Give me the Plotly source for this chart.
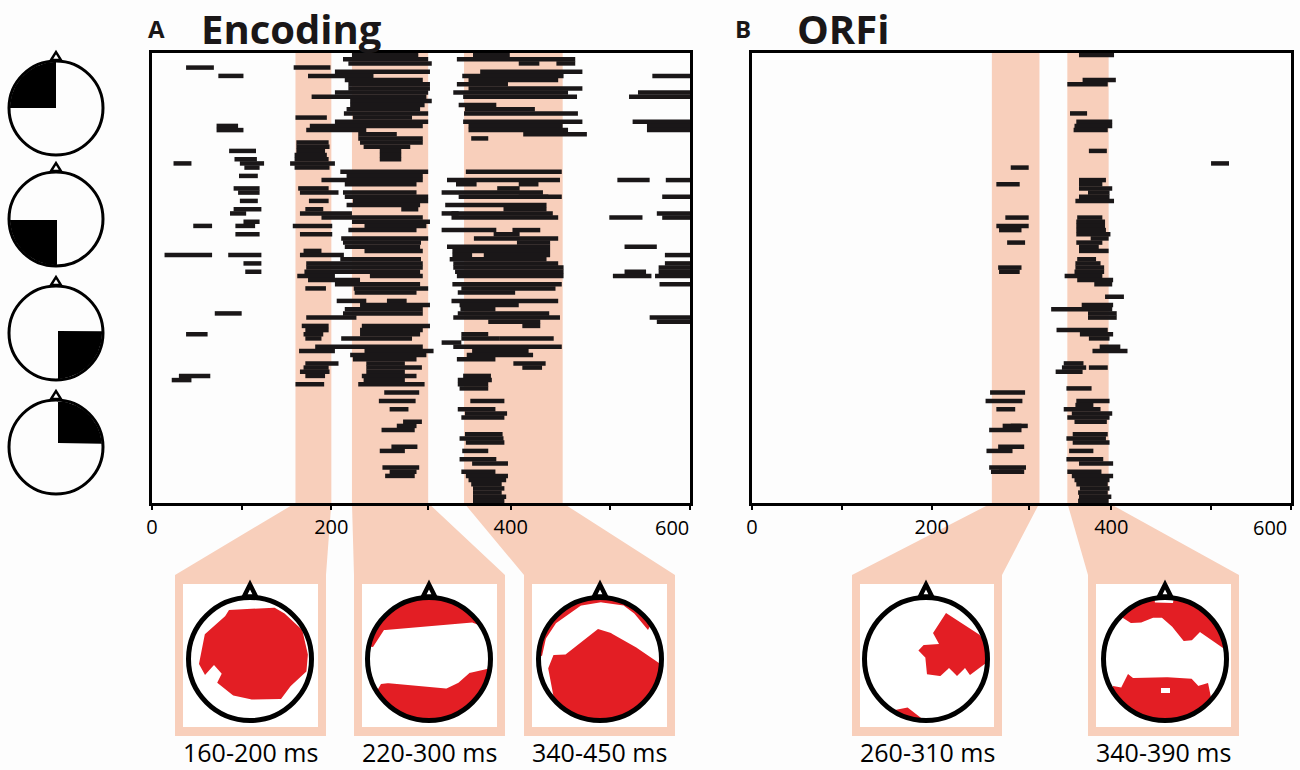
import numpy as np
import plotly.graph_objects as go

# (row, start ms, end ms), rows counted from the top
enc_spans = [
    (0,223,297),(0,358,399),(1,213,308),(1,340,472),(2,219,312),(2,409,432),(2,451,472),
    (3,38,69),(3,158,199),(4,204,310),(4,366,480),(5,74,102),(5,174,247),(5,346,459),(5,558,600),
    (6,215,302),(6,353,453),(7,219,310),(7,340,397),(8,219,310),(8,353,480),
    (9,204,308),(9,336,464),(9,542,600),(10,178,306),(10,347,474),(10,532,600),(11,221,312),
    (12,221,304),(12,342,384),(13,217,299),(13,349,427),(14,214,308),(14,348,475),
    (15,160,195),(15,224,290),(16,204,308),(16,347,480),(16,536,600),
    (17,72,96),(17,176,302),(17,353,458),(17,552,600),(18,72,102),(18,172,239),(18,353,464),(18,552,600),
    (19,230,273),(19,414,485),(20,230,302),(20,356,375),(21,161,197),(21,232,302),
    (22,161,198),(22,236,288),(23,86,116),(23,161,193),(23,254,278),(24,159,195),(24,254,278),
    (25,92,117),(25,159,197),(25,254,278),(26,24,44),(26,98,125),(26,154,204),(27,103,120),(27,159,198),
    (28,210,308),(28,350,457),(29,97,118),(29,217,302),(30,189,302),(30,329,455),(30,519,555),(30,573,600),
    (31,215,295),(31,339,362),(31,409,431),(32,91,120),(32,163,197),(32,385,410),
    (33,96,120),(33,165,208),(33,213,295),(33,323,436),(34,342,457),(34,215,308),(34,409,442),(34,569,600),
    (35,98,118),(35,175,197),(35,224,308),(36,217,299),(36,327,440),(37,91,122),(37,171,191),(37,278,297),(37,392,440),
    (38,87,105),(38,165,223),(38,323,342),(38,334,447),(38,563,600),(39,189,302),(39,334,453),(39,510,547),(39,569,600),
    (40,102,120),(40,223,310),(41,46,67),(41,93,115),(41,157,201),(41,237,306),
    (42,219,295),(42,323,384),(42,402,433),(43,93,120),(43,165,201),(43,381,410),
    (44,211,308),(44,359,453),(45,213,300),(45,407,444),(46,215,299),(46,329,444),(46,527,563),
    (47,169,189),(47,237,302),(47,335,444),(48,14,67),(48,85,122),(48,165,214),(48,335,357),(48,370,444),(48,572,600),
    (49,210,300),(49,332,440),(50,102,122),(50,172,302),(50,336,453),(50,572,600),
    (51,172,302),(51,336,459),(51,565,600),(52,104,122),(52,170,299),(52,338,459),(52,527,551),(52,565,600),
    (53,162,204),(53,243,302),(53,340,459),(53,514,557),(53,561,600),
    (54,174,232),(55,204,299),(55,335,457),(55,566,600),(56,171,194),(56,225,308),(56,345,450),(57,226,295),(57,341,405),
    (59,206,239),(59,262,284),(59,334,453),(60,232,310),(60,343,409),(61,215,302),(61,344,383),
    (62,70,100),(62,213,302),(62,341,443),(63,172,228),(63,336,455),(63,555,600),(64,375,433),(64,563,600),
    (65,167,197),(65,234,310),(65,413,433),(66,171,197),(66,232,302),(67,38,62),(67,169,191),(67,232,299),(67,345,375),
    (68,171,189),(68,211,290),(68,345,388),(68,388,448),(69,323,345),(70,182,302),(70,336,457),
    (71,164,204),(71,237,314),(71,357,420),(72,221,306),(72,351,425),(73,224,295),(73,340,383),
    (74,171,208),(74,239,282),(74,403,439),(75,169,197),(75,239,301),(75,413,435),(76,165,198),(76,239,282),
    (77,30,65),(77,171,193),(77,234,295),(77,347,378),(78,22,44),(78,236,282),(78,341,379),
    (79,160,192),(79,230,304),(79,341,375),(80,343,375),(81,259,298),(83,253,294),(83,355,393),
    (85,265,286),(85,341,383),(86,349,396),(87,345,393),(88,280,301),(89,273,295),(90,256,293),
    (91,349,391),(92,343,392),(93,350,393),(94,267,296),(95,254,282),(95,346,375),
    (97,343,384),(98,357,397),(99,257,298),(100,265,295),(100,345,383),(101,260,293),(101,350,397),
    (102,353,395),(103,356,390),(104,358,393),(105,358,390),(106,358,395),(107,358,393),
]
orf_spans = [
    (0,364,403),(6,368,405),(7,351,396),(14,354,373),(16,361,401),(17,359,401),(18,358,396),
    (23,375,395),(26,511,531),(27,288,308),(30,364,394),(31,272,298),(31,364,390),(32,364,401),
    (33,374,398),(34,364,398),(35,360,403),(39,282,308),(39,362,390),(40,361,393),(41,272,308),(41,361,393),
    (42,275,300),(42,361,394),(43,361,399),(44,377,397),(45,284,304),(45,361,390),(46,364,386),(47,364,397),
    (49,362,383),(50,360,388),(51,274,300),(51,360,392),(52,275,298),(52,359,392),(53,348,390),
    (54,362,402),(55,381,401),(58,393,414),(60,367,402),(61,333,401),(62,374,406),(63,374,406),
    (66,339,396),(67,365,402),(68,375,398),(70,387,410),(71,379,418),(74,347,369),(75,345,372),(75,375,396),
    (76,338,368),(80,350,378),(81,265,304),(83,361,398),(83,260,301),(84,360,380),(85,272,293),(85,347,388),
    (86,356,401),(87,351,398),(88,359,395),(89,288,307),(89,279,300),(90,264,300),(91,357,396),(92,350,394),
    (93,357,398),(94,274,303),(95,261,290),(95,353,380),(97,350,391),(98,364,402),(99,264,305),(100,275,303),
    (100,266,300),(100,351,389),(101,356,402),(102,359,398),(103,361,396),(104,365,398),(105,363,396),(106,364,400),(107,363,397),
]

# highlighted windows, as drawn (ms)
enc_band_start = [160, 223, 348]
enc_band_end = [200, 308, 458]
orf_band_start = [267, 351]
orf_band_end = [320, 397]

# the source's minor ticks do not sit exactly on 300 and 500
x_ticks = [0, 100, 200, 308, 400, 511, 600]
x_tick_text = ['0', '', '200', '', '400', '', '']

enc_labels = ['160-200 ms', '220-300 ms', '340-450 ms']
orf_labels = ['260-310 ms', '340-390 ms']

# topographies, outlines as offsets from the head centre
topo_a1 = [[(-21,-49),(23,-52),(33,-47),(52,-30),(58,-7),(57,12),(43,24),(31,40),(4,41),(-16,37),(-33,24),
            (-28,15),(-36,6),(-45,16),(-51,5),(-46,-24),(-26,-41)]]
topo_a2 = [[(-56,-12),(-45,-29),(-9,-32),(42,-37),(50,-34),(70,-70),(0,-90),(-70,-70),(-80,-15)],
           [(-48,25),(-43,24),(-9,27),(16,30),(28,25),(40,14),(58,10),(90,20),(70,70),(0,90),(-70,70),(-60,45)]]
topo_a3 = [[(-2,-30),(9,-27),(33,-14),(48,-3),(58,3),(90,30),(70,70),(0,90),(-40,70),(-48,30),(-52,10),(-47,-4),(-35,-4),(-21,-15)],
           [(-58,-3),(-55,-19),(-45,-35),(-21,-53),(-1,-57),(23,-54),(33,-47),(48,-29),(70,-70),(0,-90),(-70,-70),(-80,-10)]]
topo_b1 = [[(20,-46),(52,-26),(70,-5),(60,4),(44,16),(39,9),(31,17),(23,9),(15,17),(1,16),(0,-1),(-8,-8),(-3,-14),(13,-15),(7,-26)],
           [(-31,51),(-19,48),(-4,59),(-10,70),(-40,60)]]
topo_b2 = [[(-42,-41),(-35,-36),(-25,-36),(-14,-41),(-4,-42),(6,-34),(18,-18),(26,-18),(35,-27),(58,-11),(90,-40),(60,-70),
            (10,-70),(8,-56),(-10,-56),(-12,-70),(-50,-70)],
           [(-52,27),(-44,29),(-37,15),(-32,19),(-9,18),(26,19),(33,27),(43,24),(46,37),(60,70),(0,90),(-60,70)]]
topo_b2_hole = [(-4,29),(5,29),(5,34),(-4,34)]

BAND = '#f8cfbb'
BLACK = '#1a1718'
RED = '#e31e24'
BG = '#fdfdfd'
FONT = 'Open Sans'


def enc_px(ms):
    return 152 + ms * 538 / 600


def orf_px(ms):
    return 752 + ms * 539 / 600


def clip_to_head(outline, radius):
    # walk along the outline and pull anything outside the head back on to it
    pts = np.array(list(outline) + [outline[0]], dtype=float)
    out = []
    for a, b in zip(pts[:-1], pts[1:]):
        for t in np.linspace(0, 1, 24, endpoint=False):
            out.append(a + (b - a) * t)
    out = np.array(out)
    r = np.hypot(out[:, 0], out[:, 1])
    scale = np.minimum(1, radius / np.maximum(r, 1e-6))
    return out * scale[:, None]


def add_poly(fig, xs, ys, color):
    fig.add_trace(go.Scatter(x=list(xs) + [xs[0]], y=list(ys) + [ys[0]], mode='lines', fill='toself',
                             fillcolor=color, line=dict(width=0), hoverinfo='skip', xaxis='x', yaxis='y'))


def add_head(fig, shapes, cx, cy, r, lw, nose_lw, nose_w, nose_h):
    shapes.append(dict(type='path', xref='x', yref='y', layer='above', fillcolor='white',
                       line=dict(color='black', width=nose_lw),
                       path=f'M{cx-nose_w},{cy-r-1} L{cx},{cy-r-nose_h} L{cx+nose_w},{cy-r-1} Z'))
    shapes.append(dict(type='circle', xref='x', yref='y', layer='above', x0=cx-r, x1=cx+r, y0=cy-r, y1=cy+r,
                       line=dict(color='black', width=lw)))


fig = go.Figure()
shapes = []
annotations = []

# funnels and inset frames live on a page-sized axis, drawn first so they stay under the panels
insets = [
    (enc_px(enc_band_start[0]), enc_px(enc_band_end[0]), 175, 326, 250, topo_a1, enc_labels[0]),
    (enc_px(enc_band_start[1]), enc_px(enc_band_end[1]), 354, 505, 429, topo_a2, enc_labels[1]),
    (enc_px(enc_band_start[2]), enc_px(enc_band_end[2]), 524, 675, 600, topo_a3, enc_labels[2]),
    (orf_px(orf_band_start[0]), orf_px(orf_band_end[0]), 852, 1002, 926, topo_b1, orf_labels[0]),
    (orf_px(orf_band_start[1]), orf_px(orf_band_end[1]), 1088, 1239, 1165, topo_b2, orf_labels[1]),
]
for left, right, box_l, box_r, cx, topo, label in insets:
    add_poly(fig, [left, box_l, box_l, box_r, box_r, right], [503, 575, 736, 736, 575, 503], BAND)
    add_poly(fig, [box_l+8, box_r-8, box_r-8, box_l+8], [584, 584, 727, 727], 'white')
    for outline in topo:
        pts = clip_to_head(outline, 61)
        add_poly(fig, pts[:, 0] + cx, pts[:, 1] + 659, RED)
    add_head(fig, shapes, cx, 659, 61.5, 5, 4.5, 6, 13)
    annotations.append(dict(x=(box_l + box_r) / 2, y=752, xref='x', yref='y', text=label, showarrow=False,
                            font=dict(family=FONT, size=25, color='black')))
hole = np.array(topo_b2_hole, dtype=float)
add_poly(fig, hole[:, 0] + 1165, hole[:, 1] + 659, 'white')

# orientation heads on the left
quadrants = [
    (108, [(0,0),(-60,0),(-60,-60),(0,-60)]),
    (219, [(1,1),(-60,1),(-60,60),(1,60)]),
    (333, [(2,-2),(60,-2),(60,60),(2,60)]),
    (447, [(2,-4),(60,-4),(60,-60),(2,-60)]),
]
for cy, quad in quadrants:
    pts = clip_to_head(quad, 46)
    add_poly(fig, pts[:, 0] + 56, pts[:, 1] + cy, 'black')
    add_head(fig, shapes, 56, cy, 47, 3, 2.4, 5, 9)


def add_spans(spans, xaxis, yaxis):
    rows, starts, ends = zip(*spans)
    fig.add_trace(go.Bar(y=rows, x=np.array(ends) - np.array(starts), base=starts, orientation='h', width=1.08,
                         marker=dict(color=BLACK, line=dict(width=0)), xaxis=xaxis, yaxis=yaxis))


add_spans(enc_spans, 'x2', 'y2')
add_spans(orf_spans, 'x3', 'y3')

for start, end in zip(enc_band_start, enc_band_end):
    shapes.append(dict(type='rect', xref='x2', yref='y2', x0=start, x1=end, y0=107.5, y1=-0.5,
                       fillcolor=BAND, line=dict(width=0), layer='below'))
for start, end in zip(orf_band_start, orf_band_end):
    shapes.append(dict(type='rect', xref='x3', yref='y3', x0=start, x1=end, y0=107.5, y1=-0.5,
                       fillcolor=BAND, line=dict(width=0), layer='below'))

# the 600 label sits inside the axis end, so it is placed by hand
for x in (672, 1270):
    annotations.append(dict(x=x, y=527, xref='x', yref='y', text='600', showarrow=False,
                            font=dict(family=FONT, size=20, color='black')))

for x, text, size in [(146, 'A', 24), (733, 'B', 24), (199, 'Encoding', 40), (795, 'ORFi', 40)]:
    annotations.append(dict(x=x, y=28, xref='x', yref='y', xanchor='left', text=f'<b>{text}</b>', showarrow=False,
                            font=dict(family=FONT, size=size, color=BLACK)))

panel_x = dict(range=[0, 600], tickvals=x_ticks, ticktext=x_tick_text, ticks='outside', ticklen=4, tickwidth=2,
               tickcolor='black', showline=True, linecolor='black', linewidth=3, mirror=True, showgrid=False,
               zeroline=False, tickfont=dict(family=FONT, size=20, color='black'))
panel_y = dict(range=[107.5, -0.5], showticklabels=False, ticks='', showline=True, linecolor='black', linewidth=3,
               mirror=True, showgrid=False, zeroline=False, domain=[1 - 503 / 770, 1 - 53 / 770])

fig.update_layout(
    width=1300, height=770, margin=dict(l=0, r=0, t=0, b=0, autoexpand=False), showlegend=False, barmode='overlay',
    paper_bgcolor='white', plot_bgcolor=BG,
    xaxis=dict(range=[0, 1300], domain=[0, 1], visible=False),
    yaxis=dict(range=[770, 0], domain=[0, 1], visible=False),
    xaxis2=dict(domain=[152 / 1300, 690 / 1300], anchor='y2', **panel_x),
    yaxis2=dict(anchor='x2', **panel_y),
    xaxis3=dict(domain=[752 / 1300, 1291 / 1300], anchor='y3', **panel_x),
    yaxis3=dict(anchor='x3', **panel_y),
    shapes=shapes, annotations=annotations,
)
# the page's default body margin would push the figure off the 1300x770 window
fig.write_html('out.html', post_script="document.body.style.margin='0';", config=dict(displayModeBar=False))
